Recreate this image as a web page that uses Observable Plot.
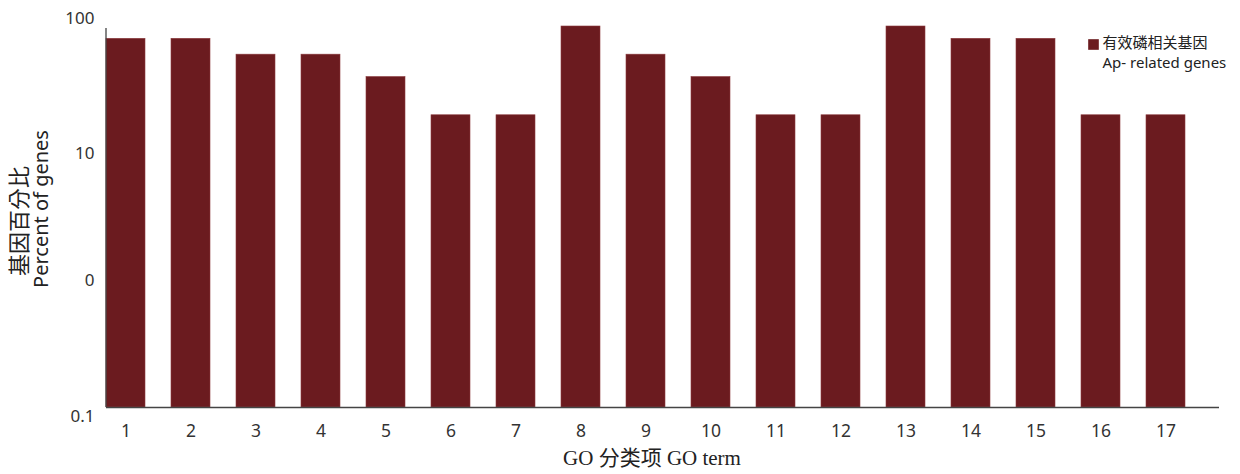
<!DOCTYPE html>
<html>
<head>
<meta charset="utf-8">
<script src="https://cdn.jsdelivr.net/npm/d3@7"></script>
<script src="https://cdn.jsdelivr.net/npm/@observablehq/plot@0.6"></script>
<style>
  html, body { margin: 0; padding: 0; background: #fff; }
  #chart svg { display: block; }
</style>
</head>
<body>
<div id="chart"></div>
<script>
const terms = ["1","2","3","4","5","6","7","8","9","10","11","12","13","14","15","16","17"];
const percent = [80, 80, 60, 60, 40, 20, 20, 100, 60, 40, 20, 20, 100, 80, 80, 20, 20];
const yTicks = [0.1, 1, 10, 100];
const yTickLabels = ["0.1", "0", "10", "100"];
const seriesName = ["有效磷相关基因", "Ap- related genes"];
const yTitleZh = "基因百分比";
const yTitleEn = "Percent of genes";
const xTitle = "GO 分类项 GO term";

const data = terms.map((t, i) => ({term: t, value: percent[i]}));
const barColor = "#6b1b1f";
const sans = "'Noto Sans', 'Noto Sans CJK KR', 'Noto Sans CJK SC', sans-serif";
const fmt = (d) => yTickLabels[yTicks.indexOf(d)];
const yAxisOpts = {tickSize: 0, tickPadding: 12, tickFormat: fmt, label: null, fontSize: 17, fill: "#333"};

const yAxisLine = (index, scales, values, dims) => {
  const x = dims.marginLeft;
  const g = d3.create("svg:line")
    .attr("x1", x).attr("x2", x)
    .attr("y1", scales.y(100) + 2).attr("y2", scales.y(0.1))
    .attr("stroke", "#444").attr("stroke-width", 1.3);
  return g.node();
};

const chart = Plot.plot({
  width: 1240,
  height: 474,
  marginLeft: 106,
  marginRight: 21,
  marginTop: 26,
  marginBottom: 67,
  style: {fontFamily: sans, fontSize: "17px", color: "#333", background: "#fff"},
  x: {
    type: "band",
    domain: terms,
    paddingInner: 0.4,
    paddingOuter: 0.2,
    align: 0
  },
  y: {
    type: "log",
    domain: [0.1, 100]
  },
  marks: [
    Plot.barY(data, {x: "term", y1: 0.1, y2: "value", fill: barColor, stroke: "#8c3b3e", strokeWidth: 0.6}),
    Plot.ruleY([0.1], {stroke: "#444", strokeWidth: 1.3}),
    yAxisLine,
    Plot.axisX({tickSize: 0, tickPadding: 17, label: null, fontSize: 17.5, fill: "#333"}),
    Plot.axisY([1, 10], yAxisOpts),
    Plot.axisY([100], {...yAxisOpts, dy: -8}),
    Plot.axisY([0.1], {...yAxisOpts, dy: 9}),
    Plot.text([yTitleZh], {
      frameAnchor: "left", textAnchor: "middle", dx: -87, dy: 4, rotate: -90,
      fontSize: 22, fill: "#222", fontFamily: sans
    }),
    Plot.text([yTitleEn], {
      frameAnchor: "left", textAnchor: "middle", dx: -65, dy: -8, rotate: -90,
      fontSize: 20, fill: "#222", fontFamily: sans
    }),
    Plot.text([xTitle], {
      frameAnchor: "bottom", dx: -11, dy: 57, fontSize: 21, fill: "#222",
      fontFamily: "'Liberation Serif', 'Noto Sans CJK SC', serif"
    }),
    Plot.dot([0], {
      frameAnchor: "top-left", dx: 987, dy: 18, symbol: "square", r: 6,
      fill: barColor, stroke: "none"
    }),
    Plot.text([seriesName.join("\n")], {
      frameAnchor: "top-left", dx: 996, dy: 8, textAnchor: "start", lineAnchor: "top",
      fontSize: 15, lineHeight: 1.3, fill: "#222", fontFamily: sans
    })
  ]
});
document.getElementById("chart").appendChild(chart);
</script>
</body>
</html>
